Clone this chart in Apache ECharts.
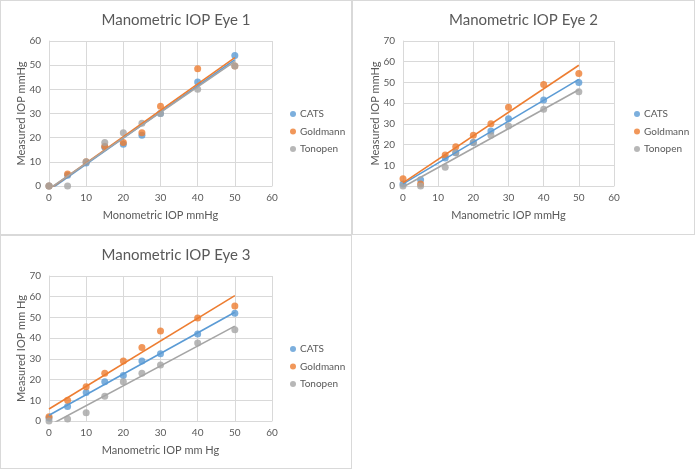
<!DOCTYPE html>
<html><head><meta charset="utf-8">
<script src="https://cdn.jsdelivr.net/npm/echarts@6/dist/echarts.min.js"></script>
<style>
html,body{margin:0;padding:0;background:#fff;}
.p{position:absolute;box-sizing:border-box;border:1px solid #d9d9d9;background:#fff;}
</style></head><body>
<div id="c1" class="p" style="left:0;top:0;width:352px;height:235px"></div>
<div id="c2" class="p" style="left:352px;top:0;width:343px;height:235px"></div>
<div id="c3" class="p" style="left:0;top:235px;width:352px;height:234px"></div>
<script>
const seriesNames = ['CATS', 'Goldmann', 'Tonopen'];
const colors = ['#5B9BD5', '#ED7D31', '#A5A5A5'];

const eye1X = [0, 5, 10, 15, 20, 25, 30, 40, 50];
const eye1Cats = [0, 4.5, 9.5, 16, 17.3, 21, 30, 43, 54];
const eye1Goldmann = [0, 5, 10, 16.5, 18, 22, 33, 48.5, 49.7];
const eye1Tonopen = [0, 0, 10, 18, 22, 26, 30, 40, 49.7];

const eye2X = [0, 5, 12, 15, 20, 25, 30, 40, 50];
const eye2Cats = [1, 3, 13.5, 16, 21, 26.5, 32.5, 41.5, 50];
const eye2Goldmann = [3.5, 1, 15, 19, 24.5, 30, 38, 49, 54.3];
const eye2Tonopen = [0, 0, 9, 16, 21, 24.5, 29, 37, 45.5];

const eye3X = [0, 5, 10, 15, 20, 25, 30, 40, 50];
const eye3Cats = [1.5, 7, 13.8, 19, 22, 29, 32.5, 42, 52];
const eye3Goldmann = [2, 10, 16.5, 23, 29, 35.5, 43.5, 49.7, 55.5];
const eye3Tonopen = [0, 1, 4, 12, 19, 23, 27, 37.7, 44];

const trendX = [0, 50];
const eye1TrendCats = [-1.8, 52.3];
const eye1TrendGoldmann = [-1.4, 53.1];
const eye1TrendTonopen = [-1.2, 51.6];
const eye2TrendCats = [1, 51.5];
const eye2TrendGoldmann = [1.5, 58.3];
const eye2TrendTonopen = [-0.5, 46.5];
const eye3TrendCats = [2.8, 52.5];
const eye3TrendGoldmann = [5.8, 60.5];
const eye3TrendTonopen = [-2.2, 45.8];

const FONT = 'Lato';
const txt = '#595959';

function pairs(xs, ys) { return xs.map((x, i) => [x, ys[i]]); }

function build(el, title, xName, yName, yMax, xs, vals, trends, grid, legendLeft) {
  const chart = echarts.init(document.getElementById(el), null, {renderer: 'canvas'});
  const series = [];
  vals.forEach((v, i) => {
    series.push({
      name: seriesNames[i], type: 'scatter', data: pairs(xs, v),
      symbol: 'circle', symbolSize: 7, itemStyle: {color: colors[i]}, z: 3
    });
  });
  trends.forEach((t, i) => {
    series.push({
      name: seriesNames[i] + ' trend', type: 'line', data: pairs(trendX, t),
      showSymbol: false, symbol: 'none', clip: true, silent: true,
      lineStyle: {color: colors[i], width: 1.6}, z: 4
    });
  });
  chart.setOption({
    animation: false,
    textStyle: {fontFamily: FONT},
    title: {text: title, left: 'center', top: 7,
      textStyle: {fontFamily: FONT, fontSize: 15, fontWeight: 'normal', color: txt}},
    legend: {data: seriesNames, orient: 'vertical', left: legendLeft, top: 108, padding: 0,
      icon: 'circle', itemWidth: 6, itemHeight: 6, itemGap: 7.5,
      textStyle: {fontFamily: FONT, fontSize: 10, color: txt, padding: [0, 0, 0, -1]}},
    grid: grid,
    xAxis: {type: 'value', min: 0, max: 60, interval: 10,
      name: xName, nameLocation: 'middle', nameGap: 24, nameMoveOverlap: false,
      nameTextStyle: {fontFamily: FONT, fontSize: 11, color: txt},
      axisLine: {show: true, lineStyle: {color: '#d9d9d9'}}, axisTick: {show: false},
      axisLabel: {color: txt, fontSize: 10, fontFamily: FONT, margin: 7},
      splitLine: {show: true, lineStyle: {color: '#d9d9d9', width: 1}}},
    yAxis: {type: 'value', min: 0, max: yMax, interval: 10,
      name: yName, nameLocation: 'middle', nameGap: 22, nameMoveOverlap: false,
      nameTextStyle: {fontFamily: FONT, fontSize: 11, color: txt},
      axisLine: {show: true, lineStyle: {color: '#d9d9d9'}}, axisTick: {show: false},
      axisLabel: {color: txt, fontSize: 10, fontFamily: FONT, margin: 8},
      splitLine: {show: true, lineStyle: {color: '#d9d9d9', width: 1}}},
    series: series
  });
}

build('c1', 'Manometric IOP Eye 1', 'Monometric IOP mmHg', 'Measured IOP mmHg', 60, eye1X,
  [eye1Cats, eye1Goldmann, eye1Tonopen],
  [eye1TrendCats, eye1TrendGoldmann, eye1TrendTonopen],
  {left: 48, top: 40, width: 223, height: 145}, 289);
build('c2', 'Manometric IOP Eye 2', 'Manometric IOP mmHg', 'Measured IOP mmHg', 70, eye2X,
  [eye2Cats, eye2Goldmann, eye2Tonopen],
  [eye2TrendCats, eye2TrendGoldmann, eye2TrendTonopen],
  {left: 50, top: 40, width: 211, height: 145}, 281);
build('c3', 'Manometric IOP Eye 3', 'Manometric IOP mm Hg', 'Measured IOP mm Hg', 70, eye3X,
  [eye3Cats, eye3Goldmann, eye3Tonopen],
  [eye3TrendCats, eye3TrendGoldmann, eye3TrendTonopen],
  {left: 48, top: 40, width: 223, height: 145}, 289);
</script>
</body></html>
